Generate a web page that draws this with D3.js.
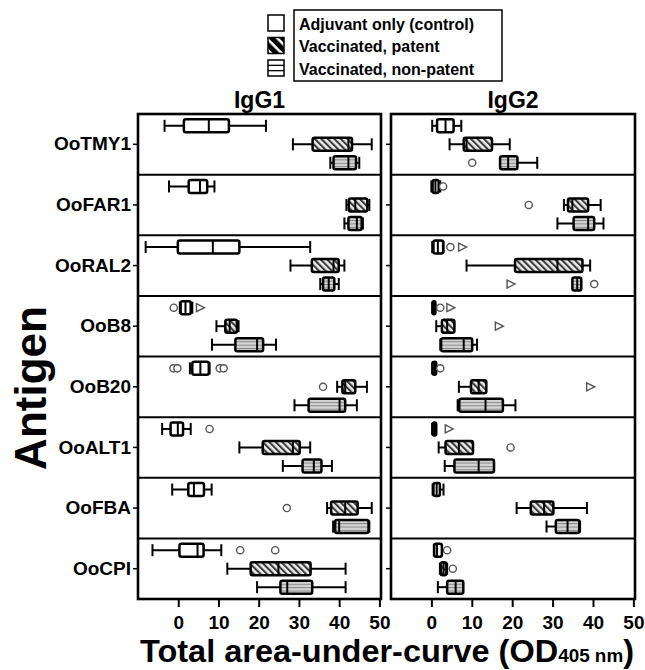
<!DOCTYPE html>
<html>
<head>
<meta charset="utf-8">
<script src="https://cdn.jsdelivr.net/npm/d3@7"></script>
<style>
body { margin: 0; background: #fff; }
svg { display: block; }
text { font-family: "Liberation Sans", Arial, sans-serif; font-weight: bold; fill: #000; }
</style>
</head>
<body>
<svg id="chart" width="645" height="670"></svg>
<script>
var antigens = ["OoTMY1", "OoFAR1", "OoRAL2", "OoB8", "OoB20", "OoALT1", "OoFBA", "OoCPI"];
var groupNames = ["Adjuvant only (control)", "Vaccinated, patent", "Vaccinated, non-patent"];
var xTicks = [0, 10, 20, 30, 40, 50];

// [low whisker, q1, median, q3, high whisker] per antigen
var igg1Control = [
	[-3.4, 1.4, 7.6, 12.6, 21.8],
	[-2.3, 2.6, 5.4, 7.2, 9.0],
	[-8.1, -0.1, 8.6, 15.2, 32.8],
	[0.4, 0.6, 1.8, 3.1, 3.5],
	[2.9, 3.5, 5.5, 7.6, 7.8],
	[-4.0, -1.9, -0.1, 1.2, 3.1],
	[-1.5, 2.5, 3.9, 6.4, 8.3],
	[-6.4, 0.3, 4.8, 6.3, 10.7]
];
var igg1Patent = [
	[28.5, 33.4, 42.3, 43.2, 48.1],
	[41.8, 42.4, 44.0, 47.0, 47.5],
	[27.9, 33.2, 38.6, 39.9, 41.3],
	[9.5, 11.7, 12.8, 14.6, 15.0],
	[39.5, 40.8, 41.5, 44.0, 46.9],
	[15.2, 21.0, 28.5, 30.2, 32.8],
	[37.0, 38.0, 41.5, 44.6, 48.1],
	[12.2, 18.0, 24.9, 32.9, 41.6]
];
var igg1NonPatent = [
	[37.8, 38.6, 42.3, 44.2, 45.0],
	[41.3, 42.3, 44.4, 45.6, 45.9],
	[35.3, 36.0, 37.4, 38.8, 39.9],
	[8.4, 14.2, 19.6, 21.1, 24.3],
	[28.9, 32.4, 40.1, 41.5, 44.4],
	[26.0, 30.9, 33.7, 35.6, 38.2],
	[38.5, 39.0, 40.0, 47.3, 47.5],
	[19.6, 25.4, 27.1, 33.3, 41.6]
];
var igg2Control = [
	[0.2, 1.4, 3.5, 5.5, 7.4],
	[0.0, 0.3, 1.0, 1.8, 2.2],
	[0.2, 0.5, 1.6, 2.9, 3.0],
	[0.2, 0.3, 0.6, 1.0, 1.0],
	[0.2, 0.3, 0.7, 1.2, 1.2],
	[0.2, 0.3, 0.7, 1.2, 1.2],
	[0.3, 0.5, 1.3, 2.1, 3.0],
	[0.6, 0.7, 1.4, 2.6, 2.6]
];
var igg2Patent = [
	[4.5, 8.0, 8.7, 15.0, 19.4],
	[32.8, 33.8, 34.9, 38.8, 41.9],
	[8.7, 20.7, 31.2, 37.4, 39.3],
	[1.2, 2.6, 3.9, 5.7, 5.7],
	[6.8, 9.8, 11.7, 13.6, 13.6],
	[1.8, 3.5, 6.8, 10.3, 10.3],
	[21.1, 24.6, 27.9, 30.2, 38.5],
	[2.1, 2.3, 3.0, 3.7, 3.9]
];
var igg2NonPatent = [
	[17.0, 17.0, 19.0, 21.3, 26.2],
	[31.2, 35.2, 38.8, 40.3, 42.6],
	[34.9, 34.9, 36.1, 37.1, 37.1],
	[2.2, 2.4, 8.0, 10.1, 11.3],
	[6.5, 6.9, 13.4, 17.7, 20.8],
	[3.3, 5.7, 11.7, 15.5, 15.5],
	[28.5, 30.8, 33.7, 36.6, 36.8],
	[1.6, 3.9, 6.0, 7.9, 7.9]
];

// [antigen, group, value, shape] o = outlier, t = extreme
var igg1Outliers = [
	["OoB8", 0, -1.1, "o"], ["OoB8", 0, 5.4, "t"],
	["OoB20", 0, -1.2, "o"], ["OoB20", 0, -0.2, "o"], ["OoB20", 0, 10.3, "o"], ["OoB20", 0, 11.3, "o"],
	["OoB20", 1, 36.0, "o"],
	["OoALT1", 0, 7.8, "o"],
	["OoFBA", 1, 27.0, "o"],
	["OoCPI", 0, 15.4, "o"], ["OoCPI", 0, 24.1, "o"]
];
var igg2Outliers = [
	["OoTMY1", 2, 10.1, "o"],
	["OoFAR1", 0, 2.9, "o"], ["OoFAR1", 1, 24.1, "o"],
	["OoRAL2", 0, 4.7, "o"], ["OoRAL2", 0, 7.6, "t"], ["OoRAL2", 2, 19.6, "t"], ["OoRAL2", 2, 40.3, "o"],
	["OoB8", 0, 2.2, "o"], ["OoB8", 0, 4.7, "t"], ["OoB8", 1, 16.7, "t"],
	["OoB20", 0, 2.2, "o"], ["OoB20", 1, 39.3, "t"],
	["OoALT1", 0, 4.3, "t"], ["OoALT1", 1, 19.6, "o"],
	["OoCPI", 0, 3.9, "o"], ["OoCPI", 1, 5.3, "o"]
];

var svg = d3.select("#chart");
var plotTop = 114, plotBottom = 599;
var boxH = 13;

/*
 * fill patterns
 */
var defs = svg.append("defs");
var pd = defs.append("pattern").attr("id", "diag").attr("patternUnits", "userSpaceOnUse")
	.attr("width", 4.6).attr("height", 4.6).attr("patternTransform", "rotate(-45)");
pd.append("rect").attr("width", 4.6).attr("height", 4.6).attr("fill", "#eeeeee");
pd.append("rect").attr("width", 2.1).attr("height", 4.6).attr("fill", "#3c3c3c");

var ph = defs.append("pattern").attr("id", "horiz").attr("patternUnits", "userSpaceOnUse")
	.attr("width", 4).attr("height", 3.4);
ph.append("rect").attr("width", 4).attr("height", 3.4).attr("fill", "#d4d4d4");
ph.append("rect").attr("width", 4).attr("height", 1).attr("fill", "#858585");

var pl = defs.append("pattern").attr("id", "diagBig").attr("patternUnits", "userSpaceOnUse")
	.attr("width", 7.5).attr("height", 7.5).attr("patternTransform", "rotate(-45)");
pl.append("rect").attr("width", 7.5).attr("height", 7.5).attr("fill", "#fff");
pl.append("rect").attr("width", 5).attr("height", 7.5).attr("fill", "#000");

var fills = ["#fff", "url(#diag)", "url(#horiz)"];

var y = d3.scaleBand().domain(antigens).range([plotTop, plotBottom]);
var sub = d3.scaleBand().domain([0, 1, 2]).range([0, y.bandwidth()]).paddingOuter(0.14);

var panels = [
	{ title: "IgG1", range: [138, 381], boxes: [igg1Control, igg1Patent, igg1NonPatent], outliers: igg1Outliers, labels: true },
	{ title: "IgG2", range: [391, 635], boxes: [igg2Control, igg2Patent, igg2NonPatent], outliers: igg2Outliers, labels: false }
];

panels.forEach(function(p) {
	var x = d3.scaleLinear().domain([-10, 50.4]).range(p.range);
	var g = svg.append("g");

	// row separators
	g.selectAll(".sep").data(antigens.slice(1)).enter().append("line")
		.attr("x1", p.range[0]).attr("x2", p.range[1])
		.attr("y1", function(d) { return y(d); }).attr("y2", function(d) { return y(d); })
		.attr("stroke", "#000").attr("stroke-width", 2);

	p.boxes.forEach(function(stats, k) {
		var grp = g.selectAll(".box" + k).data(stats).enter().append("g")
			.attr("transform", function(d, i) {
				return "translate(0," + (y(antigens[i]) + sub(k) + sub.bandwidth() / 2) + ")";
			});
		// whiskers
		grp.append("line")
			.attr("x1", function(d) { return x(d[0]); }).attr("x2", function(d) { return x(d[4]); })
			.attr("stroke", "#000").attr("stroke-width", 2);
		grp.filter(function(d) { return d[0] < d[1]; }).append("line")
			.attr("x1", function(d) { return x(d[0]); }).attr("x2", function(d) { return x(d[0]); })
			.attr("y1", -6).attr("y2", 6).attr("stroke", "#000").attr("stroke-width", 2);
		grp.filter(function(d) { return d[4] > d[3]; }).append("line")
			.attr("x1", function(d) { return x(d[4]); }).attr("x2", function(d) { return x(d[4]); })
			.attr("y1", -6).attr("y2", 6).attr("stroke", "#000").attr("stroke-width", 2);
		// box
		grp.append("rect")
			.attr("x", function(d) { return x(d[1]); })
			.attr("width", function(d) { return Math.max(0.5, x(d[3]) - x(d[1])); })
			.attr("y", -boxH / 2).attr("height", boxH).attr("rx", 2)
			.attr("fill", fills[k]).attr("stroke", "#000").attr("stroke-width", 2.5);
		// median
		grp.append("line")
			.attr("x1", function(d) { return x(d[2]); }).attr("x2", function(d) { return x(d[2]); })
			.attr("y1", -boxH / 2).attr("y2", boxH / 2)
			.attr("stroke", "#000").attr("stroke-width", 2);
	});

	// outliers
	var out = g.selectAll(".out").data(p.outliers).enter().append("g")
		.attr("transform", function(d) {
			return "translate(" + x(d[2]) + "," + (y(d[0]) + sub(d[1]) + sub.bandwidth() / 2) + ")";
		});
	out.filter(function(d) { return d[3] == "o"; }).append("circle")
		.attr("r", 3.6).attr("fill", "#fff").attr("stroke", "#555").attr("stroke-width", 1.4);
	out.filter(function(d) { return d[3] == "t"; }).append("path")
		.attr("d", "M-3.5,-4L4.5,0L-3.5,4Z")
		.attr("fill", "#fff").attr("stroke", "#555").attr("stroke-width", 1.4);

	// frame
	g.append("rect")
		.attr("x", p.range[0]).attr("y", plotTop)
		.attr("width", p.range[1] - p.range[0]).attr("height", plotBottom - plotTop)
		.attr("fill", "none").attr("stroke", "#000").attr("stroke-width", 2.6);

	// x axis
	var ax = g.append("g").attr("transform", "translate(0," + plotBottom + ")")
		.call(d3.axisBottom(x).tickValues(xTicks).tickSize(8).tickSizeOuter(0));
	ax.select(".domain").remove();
	ax.selectAll("line").attr("stroke", "#000").attr("stroke-width", 2);
	ax.selectAll("text").attr("y", 17).style("font-size", "19px")
		.style("font-family", "'Liberation Sans', Arial, sans-serif").style("font-weight", "bold");

	// y axis
	var ay = g.append("g").attr("transform", "translate(" + p.range[0] + ",0)")
		.call(d3.axisLeft(y).tickSize(5).tickSizeOuter(0));
	ay.select(".domain").remove();
	ay.selectAll("line").attr("stroke", "#000").attr("stroke-width", 1.5);
	if(p.labels) {
		ay.selectAll("text").attr("x", -7).style("font-size", "19px")
			.style("font-family", "'Liberation Sans', Arial, sans-serif").style("font-weight", "bold");
	} else {
		ay.selectAll("text").remove();
	}

	g.append("text")
		.attr("x", (p.range[0] + p.range[1]) / 2).attr("y", 108)
		.attr("text-anchor", "middle").style("font-size", "23px")
		.text(p.title);
});

/*
 * legend
 */
svg.append("rect").attr("x", 294).attr("y", 10).attr("width", 208).attr("height", 71)
	.attr("fill", "none").attr("stroke", "#000").attr("stroke-width", 1.5);
var leg = svg.selectAll(".leg").data(groupNames).enter().append("g")
	.attr("transform", function(d, i) { return "translate(0," + (23 + i * 22.5) + ")"; });
leg.append("rect").attr("x", 268).attr("y", -8).attr("width", 16).attr("height", 16)
	.attr("fill", function(d, i) { return i == 1 ? "url(#diagBig)" : "#fff"; })
	.attr("stroke", "#000").attr("stroke-width", 1.5);
leg.filter(function(d, i) { return i == 2; }).selectAll(".hl").data([-8 + 16 / 3, -8 + 32 / 3]).enter()
	.append("line").attr("x1", 268).attr("x2", 284)
	.attr("y1", function(d) { return d; }).attr("y2", function(d) { return d; })
	.attr("stroke", "#000").attr("stroke-width", 1.3);
leg.append("text").attr("x", 299).attr("y", 6.5).style("font-size", "16px")
	.text(function(d) { return d; });

/*
 * axis titles
 */
var xt = svg.append("text").attr("x", 140).attr("y", 662)
	.attr("textLength", 494).attr("lengthAdjust", "spacingAndGlyphs")
	.style("font-size", "31px");
xt.append("tspan").text("Total area-under-curve (OD");
xt.append("tspan").style("font-size", "18px").text("405 nm");
xt.append("tspan").text(")");

svg.append("text")
	.attr("transform", "translate(46,388) rotate(-90)")
	.attr("text-anchor", "middle").style("font-size", "44px")
	.text("Antigen");
</script>
</body>
</html>
